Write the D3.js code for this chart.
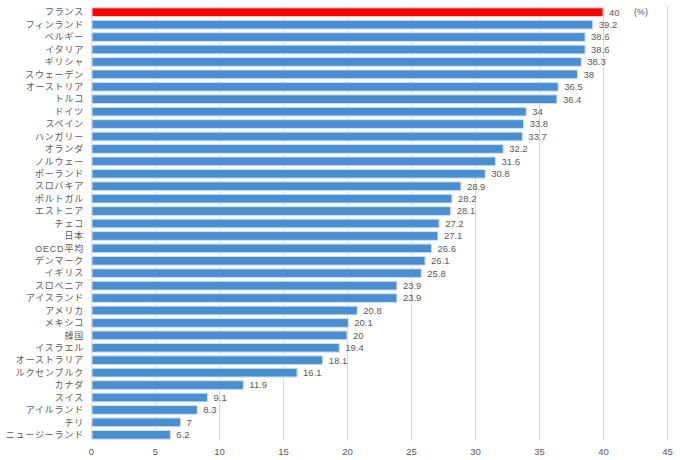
<!DOCTYPE html>
<html><head><meta charset="utf-8">
<script src="https://cdn.jsdelivr.net/npm/d3@7"></script>
<style>
body{margin:0;background:#fff;}
text{fill:#595959;}
.cat{font-family:"Liberation Sans","Noto Sans CJK JP",sans-serif;}
.num{font-family:"Liberation Sans","Noto Sans",sans-serif;}
</style></head><body>
<svg id="chart" width="680" height="460"></svg>
<script>
const countries = ["フランス","フィンランド","ベルギー","イタリア","ギリシャ","スウェーデン","オーストリア","トルコ","ドイツ","スペイン","ハンガリー","オランダ","ノルウェー","ポーランド","スロバキア","ポルトガル","エストニア","チェコ","日本","OECD平均","デンマーク","イギリス","スロベニア","アイスランド","アメリカ","メキシコ","韓国","イスラエル","オーストラリア","ルクセンブルク","カナダ","スイス","アイルランド","チリ","ニュージーランド"];
const values = [40,39.2,38.6,38.6,38.3,38,36.5,36.4,34,33.8,33.7,32.2,31.6,30.8,28.9,28.2,28.1,27.2,27.1,26.6,26.1,25.8,23.9,23.9,20.8,20.1,20,19.4,18.1,16.1,11.9,9.1,8.3,7,6.2];
const xTicks = [0,5,10,15,20,25,30,35,40,45];
const highlight = "フランス";
const unitLabel = "(%)";

const svg = d3.select("#chart");
const x = d3.scaleLinear().domain([0,45]).range([91,667]);
const y = d3.scaleBand().domain(countries).range([6,441]).paddingInner(0.3).paddingOuter(0.15);

// grid
svg.append("g").selectAll("line").data(xTicks).join("line")
  .attr("x1",d=>x(d)+0.5).attr("x2",d=>x(d)+0.5)
  .attr("y1",6).attr("y2",441)
  .attr("stroke","#d9d9d9").attr("stroke-width",1);

// bars
svg.append("g").selectAll("rect").data(countries).join("rect")
  .attr("x",x(0)+1)
  .attr("y",d=>y(d))
  .attr("width",(d,i)=>x(values[i])-x(0)-1)
  .attr("height",y.bandwidth())
  .attr("fill",d=>d===highlight?"#ff0000":"#4a8ed2")
  .attr("stroke",d=>d===highlight?"#ffd0d0":"#cfe0f2")
  .attr("stroke-width",1);

// value labels
svg.append("g").selectAll("text").data(countries).join("text")
  .attr("class","num")
  .attr("x",(d,i)=>x(values[i])+6)
  .attr("y",d=>y(d)+y.bandwidth()/2)
  .attr("dy","0.36em")
  .attr("font-size","9.5px")
  .text((d,i)=>values[i]);

// unit label
svg.append("text").attr("class","num").attr("x",x(40)+31).attr("y",y(highlight)+y.bandwidth()/2)
  .attr("dy","0.36em").attr("font-size","9px").text(unitLabel);

// category labels
svg.append("g").selectAll("text").data(countries).join("text")
  .attr("class","cat")
  .attr("x",84)
  .attr("y",d=>y(d)+y.bandwidth()/2)
  .attr("dy","0.36em")
  .attr("text-anchor","end")
  .attr("font-size","9px")
  .attr("letter-spacing","0.8px")
  .text(d=>d);

// x tick labels
const xAxis = svg.append("g").attr("transform","translate(0,441)")
  .call(d3.axisBottom(x).tickValues(xTicks).tickSize(0).tickPadding(7));
xAxis.select(".domain").remove();
xAxis.selectAll("text").attr("class","num").attr("font-size","9.5px").attr("font-family",null).attr("fill","#595959");
</script>
</body></html>
